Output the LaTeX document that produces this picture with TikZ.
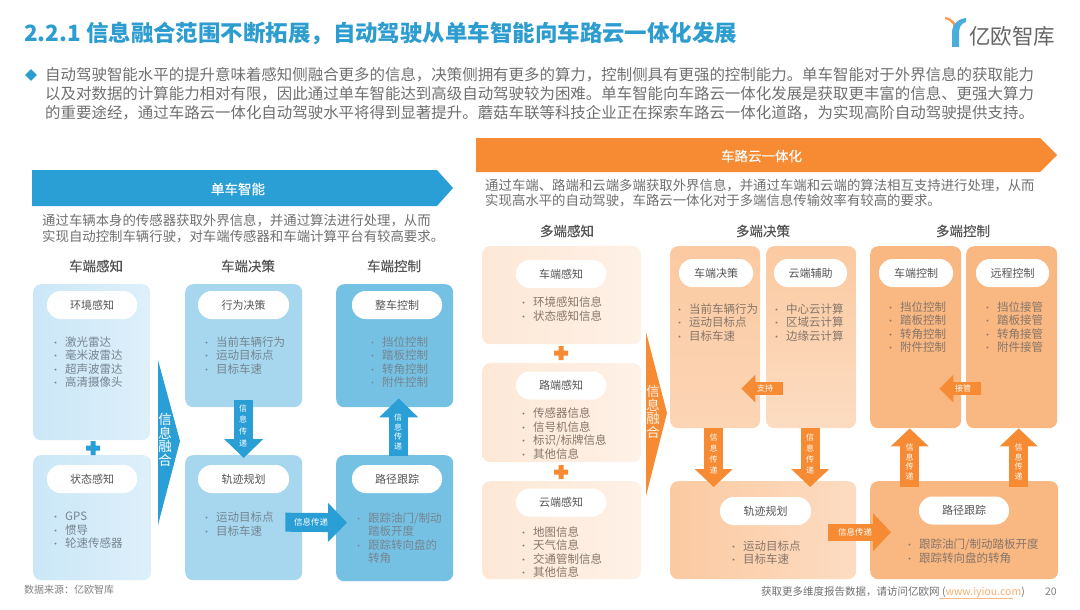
\documentclass[tikz,border=0pt]{standalone}
\usepackage{fontspec}
\setmainfont{Noto Sans CJK SC}
\newfontfamily\semifont[FakeBold=0.35]{Noto Sans CJK SC}
\usetikzlibrary{shapes,arrows.meta,calc}

\definecolor{ybluebar}{HTML}{2A9FD6}
\definecolor{yorgbar}{HTML}{F68B33}
\definecolor{ytitle}{HTML}{2D9CCF}
\definecolor{ytext}{HTML}{6F6F6F}
\definecolor{yhead}{HTML}{555555}
\definecolor{yitem}{HTML}{75858F}
\definecolor{yitemo}{HTML}{86766A}
\definecolor{ypaleb}{HTML}{CBE7F7}
\definecolor{ypalec}{HTML}{DDF0FA}

\newcommand{\fs}[1]{\fontsize{#1pt}{#1pt}\selectfont}
\newcommand{\fsl}[2]{\fontsize{#1pt}{#2pt}\selectfont}
\newcommand{\itm}{\makebox[14pt][l]{\fontsize{9pt}{9pt}\selectfont •}}

\tikzset{
    descline/.style={anchor=west,align=left,text=ytext,inner sep=0pt,font=\fs{13.4}},
    colhead/.style={text=yhead,inner sep=0pt,font=\fs{13.5}\semifont},
    bartitle/.style={inner sep=0pt,text=white,font=\fs{13.5}\semifont},
    panel/.style={rectangle,rounded corners=8pt,anchor=north west,inner sep=0pt},
    pill/.style={rectangle,rounded corners=13.5pt,fill=white,text=yhead,inner sep=0pt,
        minimum height=28pt,font=\fs{11}},
    itemlist/.style={anchor=west,align=left,inner sep=0pt,text=yitem,font=\fsl{11.5}{13.5}},
    itemlisto/.style={itemlist,text=yitemo},
    blockb/.style={-{Triangle[length=19pt,width=38pt]},line width=19pt,ybluebar},
    blocko/.style={-{Triangle[length=18pt,width=37pt]},line width=19pt,yorgbar},
    blocksm/.style={-{Triangle[length=14pt,width=27pt]},line width=13pt,yorgbar},
    vlabel/.style={inner sep=0pt,text=white,align=center,font=\fsl{8}{11}},
    vlabelup/.style={vlabel,font=\fsl{8}{9.7}},
    hlabel/.style={inner sep=0pt,text=white,font=\fs{8.5}},
    mergelabel/.style={inner sep=0pt,align=center,text=white,font=\fsl{13.5}{13.5}},
}

\begin{document}
\begin{tikzpicture}[x=1pt,y=-1pt]
    \useasboundingbox (0,0) rectangle (1080,610);

    % Title and summary
    \node (title) [anchor=west,inner sep=0pt,text=ytitle,font=\fs{22.45}\bfseries] at (24,34)
        {2.2.1 信息融合范围不断拓展，自动驾驶从单车智能向车路云一体化发展};
    \node (mark) [diamond,fill=ytitle,inner sep=0pt,minimum size=12pt] at (31,75) {};
    \node (summary) [anchor=west,align=left,inner sep=0pt,text=ytext,font=\fsl{15.45}{19}] at (45,94) {%
        自动驾驶智能水平的提升意味着感知侧融合更多的信息，决策侧拥有更多的算力，控制侧具有更强的控制能力。单车智能对于外界信息的获取能力\\
        以及对数据的计算能力相对有限，因此通过单车智能达到高级自动驾驶较为困难。单车智能向车路云一体化发展是获取更丰富的信息、更强大算力\\
        的重要途经，通过车路云一体化自动驾驶水平将得到显著提升。蘑菇车联等科技企业正在探索车路云一体化道路，为实现高阶自动驾驶提供支持。};

    % Logo
    \fill [yorgbar!85] (945,19) .. controls (952,20) and (955,27) .. (955,33) -- (958,33) .. controls (958,24) and (953,18) .. (945,17) -- cycle;
    \fill [ybluebar!85] (952,47) -- (952,33) .. controls (952,24) and (958,19) .. (966,18) -- (966,22) .. controls (961,23) and (959,28) .. (959,33) -- (959,47) -- cycle;
    \node (logotext) [anchor=west,inner sep=0pt,text=black!60,font=\fs{21.5}] at (969,36) {亿欧智库};

    % Left half
    \fill [ybluebar] (32,170) -- (437,170) -- (453,188) -- (437,206) -- (32,206) -- cycle;
    \node (bartext) [bartitle] at (238,189) {单车智能};
    \node (desca) [descline] at (42,221) {通过车辆本身的传感器获取外界信息，并通过算法进行处理，从而};
    \node (descb) [descline] at (42,237) {实现自动控制车辆行驶，对车端传感器和车端计算平台有较高要求。};
    \node (heada) [colhead] at (96,266) {车端感知};
    \node (headb) [colhead] at (248,266) {车端决策};
    \node (headc) [colhead] at (394,266) {车端控制};

    % Left panels
    \node (env) [panel,minimum width=117pt,minimum height=156pt,left color=ypaleb,right color=ypalec] at (33,284) {};
    \node (state) [panel,minimum width=118pt,minimum height=125pt,left color=ypaleb,right color=ypalec] at (33,455) {};
    \node (behave) [panel,minimum width=117pt,minimum height=123pt,fill=ybluebar!42] at (185,284) {};
    \node (plan) [panel,minimum width=117pt,minimum height=125pt,fill=ybluebar!42] at (185,455) {};
    \node (whole) [panel,minimum width=117pt,minimum height=123pt,fill=ybluebar!65] at (336,284) {};
    \node (track) [panel,minimum width=117pt,minimum height=126pt,fill=ybluebar!65] at (336,455) {};

    % Left pills
    \node (penv) [pill,minimum width=90pt] at (92,305) {环境感知};
    \node (pstate) [pill,minimum width=90pt] at (92,479) {状态感知};
    \node (pbehave) [pill,minimum width=91pt] at (243.5,305) {行为决策};
    \node (pplan) [pill,minimum width=91pt] at (243.5,479) {轨迹规划};
    \node (pwhole) [pill,minimum width=90pt] at (397,305) {整车控制};
    \node (ptrack) [pill,minimum width=90pt] at (397,479) {路径跟踪};

    % Left lists
    \node (lenv) [itemlist] at (51,362) {\itm 激光雷达\\\itm 毫米波雷达\\\itm 超声波雷达\\\itm 高清摄像头};
    \node (lstate) [itemlist] at (51,530.5) {\itm GPS\\\itm 惯导\\\itm 轮速传感器};
    \node (lbehave) [itemlist] at (202,355.5) {\itm 当前车辆行为\\\itm 运动目标点\\\itm 目标车速};
    \node (lplan) [itemlist] at (202,524) {\itm 运动目标点\\\itm 目标车速};
    \node (lwhole) [itemlist] at (368,362) {\itm 挡位控制\\\itm 踏板控制\\\itm 转角控制\\\itm 附件控制};
    \node (ltrack) [itemlist] at (354,538) {\itm 跟踪油门/制动\\\hspace*{14pt}踏板开度\\\itm 跟踪转向盘的\\\hspace*{14pt}转角};

    % Merge arrow and plus
    \fill [ybluebar] (158,360) -- (180,441) -- (158,525) -- cycle;
    \node (mergea) [mergelabel] at (165,440) {信\\息\\融\\合};
    \fill [ybluebar] (90.5,441) rectangle (95.5,455) (86,445.5) rectangle (100,450.5);

    % Left connectors
    \draw [blockb] ([yshift=7pt]behave.south) -- ([yshift=-3pt]plan.north);
    \node (ta) [vlabel,font=\fsl{8}{11.7}] at (243,425.5) {信\\息\\传\\递};
    \draw [blockb] ([xshift=4pt,yshift=-1pt]track.north) -- ([xshift=4pt,yshift=9pt]whole.south);
    \node (tb) [vlabelup] at (398,432) {信\\息\\传\\递};
    \draw [blockb] ([xshift=-17pt,yshift=-4.5pt]plan.east) -- ([xshift=11pt,yshift=-4.5pt]track.west);
    \node (tc) [hlabel] at (311,522) {信息传递};

    % Right half
    \fill [yorgbar] (476,138) -- (1040,138) -- (1057,155) -- (1040,172) -- (476,172) -- cycle;
    \node (barb) [bartitle] at (761.5,156) {车路云一体化};
    \node (descc) [descline] at (485,186) {通过车端、路端和云端多端获取外界信息，并通过车端和云端的算法相互支持进行处理，从而};
    \node (descd) [descline] at (485,201) {实现高水平的自动驾驶，车路云一体化对于多端信息传输效率有较高的要求。};
    \node (headd) [colhead] at (567,231) {多端感知};
    \node (heade) [colhead] at (763,231) {多端决策};
    \node (headf) [colhead] at (963,231) {多端控制};

    % Right panels
    \node (vsense) [panel,minimum width=159pt,minimum height=98pt,left color=yorgbar!20,right color=yorgbar!12] at (482,246) {};
    \node (rsense) [panel,minimum width=159pt,minimum height=99pt,left color=yorgbar!20,right color=yorgbar!12] at (482,363) {};
    \node (csense) [panel,minimum width=159pt,minimum height=98pt,left color=yorgbar!20,right color=yorgbar!12] at (482,481) {};
    \node (vdec) [panel,minimum width=90pt,minimum height=182pt,top color=yorgbar!46,bottom color=yorgbar!36] at (670,246) {};
    \node (cassist) [panel,minimum width=90pt,minimum height=182pt,top color=yorgbar!46,bottom color=yorgbar!30] at (766,246) {};
    \node (vctrl) [panel,minimum width=91pt,minimum height=182pt,fill=yorgbar!62] at (870,246) {};
    \node (rctrl) [panel,minimum width=91pt,minimum height=182pt,fill=yorgbar!62] at (966,246) {};
    \node (planb) [panel,minimum width=186pt,minimum height=98pt,left color=yorgbar!46,right color=yorgbar!30] at (670,481) {};
    \node (trackb) [panel,minimum width=188pt,minimum height=98pt,fill=yorgbar!62] at (870,481) {};

    % Right pills
    \node (pvsense) [pill,minimum width=90pt] at (561,274) {车端感知};
    \node (prsense) [pill,minimum width=90pt] at (561,385.5) {路端感知};
    \node (pcsense) [pill,minimum width=90pt] at (561,502.5) {云端感知};
    \node (pvdec) [pill,minimum width=74pt] at (716,273) {车端决策};
    \node (pcassist) [pill,minimum width=73pt] at (810.5,273) {云端辅助};
    \node (pvctrl) [pill,minimum width=74pt] at (916,273) {车端控制};
    \node (prctrl) [pill,minimum width=73pt] at (1012.5,273) {远程控制};
    \node (pplanb) [pill,minimum width=91pt] at (765.5,511) {轨迹规划};
    \node (ptrackb) [pill,minimum width=90pt] at (964,510.5) {路径跟踪};

    % Right lists
    \node (lvsense) [itemlisto] at (519,309) {\itm 环境感知信息\\\itm 状态感知信息};
    \node (lrsense) [itemlisto] at (519,433.5) {\itm 传感器信息\\\itm 信号机信息\\\itm 标识/标牌信息\\\itm 其他信息};
    \node (lcsense) [itemlisto] at (519,552) {\itm 地图信息\\\itm 天气信息\\\itm 交通管制信息\\\itm 其他信息};
    \node (lvdec) [itemlisto] at (675,322.5) {\itm 当前车辆行为\\\itm 运动目标点\\\itm 目标车速};
    \node (lcassist) [itemlisto] at (772,322.5) {\itm 中心云计算\\\itm 区域云计算\\\itm 边缘云计算};
    \node (lvctrl) [itemlisto] at (886,327) {\itm 挡位控制\\\itm 踏板控制\\\itm 转角控制\\\itm 附件控制};
    \node (lrctrl) [itemlisto] at (983,327) {\itm 挡位接管\\\itm 踏板接管\\\itm 转角接管\\\itm 附件接管};
    \node (lplanb) [itemlisto] at (729,552.5) {\itm 运动目标点\\\itm 目标车速};
    \node (ltrackb) [itemlisto] at (905,551) {\itm 跟踪油门/制动踏板开度\\\itm 跟踪转向盘的转角};

    % Merge arrow and pluses
    \fill [yorgbar] (646,332) -- (667,413) -- (646,496) -- cycle;
    \node (mergeb) [mergelabel,text=white!90!yorgbar] at (653,412) {信\\息\\融\\合};
    \fill [yorgbar] (558.5,346) rectangle (563.5,360) (554,350.5) rectangle (568,355.5);
    \fill [yorgbar] (558.5,465) rectangle (563.5,479) (554,469.5) rectangle (568,474.5);

    % Right connectors
    \draw [blocko] ([xshift=-1.5pt]vdec.south) -- ([xshift=-49.5pt,yshift=-6pt]planb.north);
    \node (td) [vlabel] at (713.5,454) {信\\息\\传\\递};
    \draw [blocko] ([xshift=-1pt]cassist.south) -- ([xshift=47pt,yshift=-6pt]planb.north);
    \node (te) [vlabel] at (810,454) {信\\息\\传\\递};
    \draw [blocko] ([xshift=-54.5pt,yshift=-6pt]trackb.north) -- ([xshift=-6pt]vctrl.south);
    \node (tf) [vlabelup] at (909.5,462) {信\\息\\传\\递};
    \draw [blocko] ([xshift=54.5pt,yshift=-6pt]trackb.north) -- ([xshift=7pt]rctrl.south);
    \node (tg) [vlabelup] at (1018.5,462) {信\\息\\传\\递};
    \draw [blocko,line width=17pt] ([xshift=-28pt,yshift=-2pt]planb.east) -- ([xshift=21pt,yshift=-2pt]trackb.west);
    \node (th) [hlabel] at (855,532) {信息传递};
    \draw [blocksm] ([xshift=17pt,yshift=-51.5pt]cassist.west) -- ([xshift=-19pt,yshift=-51.5pt]vdec.east);
    \node (ti) [hlabel,font=\fs{8}] at (765,388.5) {支持};
    \draw [blocksm] ([xshift=15pt,yshift=-51.5pt]rctrl.west) -- ([xshift=-22pt,yshift=-51.5pt]vctrl.east);
    \node (tj) [hlabel,font=\fs{8}] at (963,388.5) {接管};

    % Footer
    \node (source) [anchor=west,inner sep=0pt,text=black!50,font=\fs{10}] at (24,590) {数据来源：亿欧智库};
    \node (more) [anchor=west,inner sep=0pt,text=ytext,font=\fs{10.5}] at (761,592)
        {获取更多维度报告数据，请访问亿欧网 ({\color{yorgbar!70}www.iyiou.com})};
    \draw [yorgbar!60,line width=0.5pt] (939,598) -- (1013,598);
    \node (page) [anchor=east,inner sep=0pt,text=black!50,font=\fs{10.5}] at (1057,592) {20};
\end{tikzpicture}
\end{document}
